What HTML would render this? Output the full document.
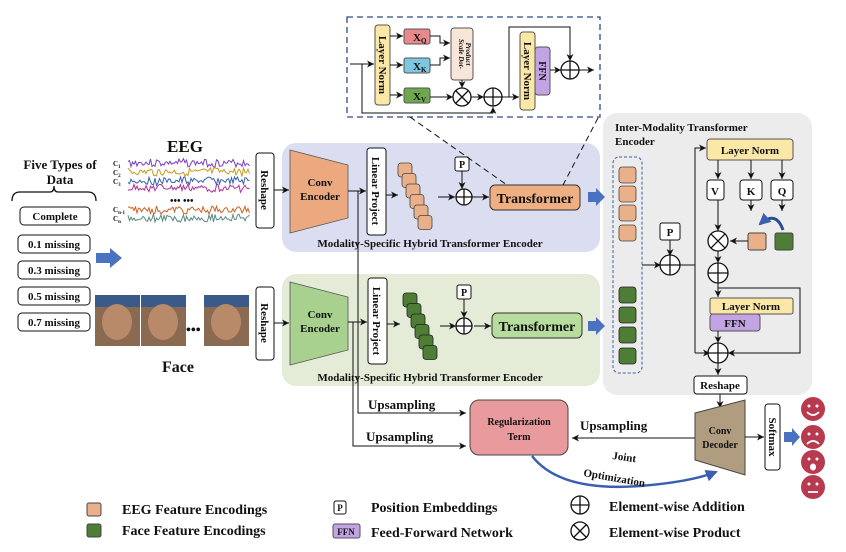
<!DOCTYPE html>
<html><head><meta charset="utf-8"><style>
html,body{margin:0;padding:0;background:#fff}
svg{display:block}
text{font-family:"Liberation Serif",serif;font-weight:bold;fill:#111}
</style></head><body>
<svg id="s" width="846" height="552" viewBox="0 0 846 552" xmlns="http://www.w3.org/2000/svg">
<defs>
<marker id="a" markerWidth="8" markerHeight="8" refX="7" refY="4" orient="auto" markerUnits="userSpaceOnUse"><path d="M0,0.5 L7,4 L0,7.5 L2,4 z" fill="#111"/></marker>
<marker id="b" markerWidth="14" markerHeight="14" refX="10" refY="6" orient="auto" markerUnits="userSpaceOnUse"><path d="M0,0 L12,6 L0,12 z" fill="#3a5fb0"/></marker>
</defs>
<!-- panels -->
<rect x="282" y="143" width="318" height="109" rx="14" fill="#dadef0"/>
<rect x="282" y="274" width="318" height="112" rx="14" fill="#e4ebd7"/>
<rect x="603" y="113" width="209" height="282" rx="14" fill="#ececec"/>

<!-- left column -->
<text x="60" y="169" font-size="13" text-anchor="middle">Five Types of</text>
<text x="60" y="184" font-size="13" text-anchor="middle">Data</text>
<path d="M12,201 Q12,192 20,192 L50,192 Q54,192 54,186 Q54,192 58,192 L88,192 Q96,192 96,201" fill="none" stroke="#111" stroke-width="1.3"/>
<g font-size="11" text-anchor="middle">
<rect x="20" y="207" width="70" height="18" rx="4" fill="#fff" stroke="#111"/><text x="55" y="220">Complete</text>
<rect x="18" y="235" width="72" height="18" rx="4" fill="#fff" stroke="#111"/><text x="54" y="248">0.1 missing</text>
<rect x="18" y="261" width="72" height="18" rx="4" fill="#fff" stroke="#111"/><text x="54" y="274">0.3 missing</text>
<rect x="18" y="287" width="72" height="18" rx="4" fill="#fff" stroke="#111"/><text x="54" y="300">0.5 missing</text>
<rect x="18" y="313" width="72" height="18" rx="4" fill="#fff" stroke="#111"/><text x="54" y="326">0.7 missing</text>
</g>
<path d="M96,253 L110,253 L110,248 L122,258 L110,268 L110,263 L96,263 z" fill="#4a72c0"/>

<text x="185" y="152" font-size="17" text-anchor="middle">EEG</text>
<g font-size="7">
<text x="113" y="166">C<tspan font-size="5" dy="2">1</tspan></text>
<text x="113" y="175">C<tspan font-size="5" dy="2">2</tspan></text>
<text x="113" y="184">C<tspan font-size="5" dy="2">3</tspan></text>
<text x="113" y="212">C<tspan font-size="5" dy="2">n-1</tspan></text>
<text x="113" y="221">C<tspan font-size="5" dy="2">n</tspan></text>
</g>
<g id="eeg"></g>
<text x="170" y="204" font-size="10">•••   •••</text>

<text x="178" y="372" font-size="16" text-anchor="middle">Face</text>
<g>
<rect x="95" y="295" width="45" height="51" fill="#8a6a50"/><rect x="95" y="295" width="45" height="12" fill="#3a5a8a"/><ellipse cx="117" cy="322" rx="15" ry="18" fill="#b98a6a"/>
<rect x="141" y="295" width="45" height="51" fill="#8a6a50"/><rect x="141" y="295" width="45" height="12" fill="#3a5a8a"/><ellipse cx="163" cy="322" rx="15" ry="18" fill="#b98a6a"/>
<rect x="204" y="295" width="45" height="51" fill="#8a6a50"/><rect x="204" y="295" width="45" height="12" fill="#3a5a8a"/><ellipse cx="226" cy="322" rx="15" ry="18" fill="#b98a6a"/>
</g>
<text x="186" y="334" font-size="14">•••</text>

<!-- reshape boxes -->
<rect x="256" y="153" width="18" height="75" rx="3" fill="#fff" stroke="#111"/>
<text transform="translate(261,190) rotate(90)" font-size="11" text-anchor="middle">Reshape</text>
<rect x="256" y="287" width="18" height="73" rx="3" fill="#fff" stroke="#111"/>
<text transform="translate(261,323) rotate(90)" font-size="11" text-anchor="middle">Reshape</text>
<line x1="274" y1="190" x2="289" y2="190" stroke="#111" marker-end="url(#a)"/>
<line x1="274" y1="323" x2="289" y2="323" stroke="#111" marker-end="url(#a)"/>

<!-- conv encoders -->
<path d="M290,150 L348,165 L348,218 L290,233 z" fill="#eca97f" stroke="#555" stroke-width=".8"/>
<text x="320" y="186" font-size="11" text-anchor="middle">Conv</text><text x="320" y="200" font-size="11" text-anchor="middle">Encoder</text>
<path d="M290,282 L348,297 L348,350 L290,365 z" fill="#a8d08e" stroke="#555" stroke-width=".8"/>
<text x="320" y="318" font-size="11" text-anchor="middle">Conv</text><text x="320" y="332" font-size="11" text-anchor="middle">Encoder</text>
<line x1="348" y1="191" x2="366" y2="191" stroke="#111" marker-end="url(#a)"/>
<line x1="348" y1="322" x2="367" y2="322" stroke="#111" marker-end="url(#a)"/>
<!-- linear project -->
<rect x="367" y="148" width="19" height="87" rx="3" fill="#fff" stroke="#111"/>
<text transform="translate(372,191) rotate(90)" font-size="11" text-anchor="middle">Linear Project</text>
<rect x="368" y="278" width="19" height="86" rx="3" fill="#fff" stroke="#111"/>
<text transform="translate(373,321) rotate(90)" font-size="11" text-anchor="middle">Linear Project</text>
<line x1="386" y1="195" x2="398" y2="195" stroke="#111" marker-end="url(#a)"/>
<line x1="387" y1="324" x2="400" y2="324" stroke="#111" marker-end="url(#a)"/>
<g id="stacks"></g>
<!-- P + oplus -->
<line x1="438" y1="197" x2="455" y2="197" stroke="#111" marker-end="url(#a)"/>
<rect x="455" y="157" width="14" height="14" rx="2" fill="#fff" stroke="#111"/><text x="462" y="168" font-size="10" text-anchor="middle">P</text>
<line x1="462" y1="171" x2="462" y2="189" stroke="#111" marker-end="url(#a)"/>
<line x1="472" y1="197" x2="489" y2="197" stroke="#111" marker-end="url(#a)"/>
<line x1="440" y1="326" x2="456" y2="326" stroke="#111" marker-end="url(#a)"/>
<rect x="457" y="285" width="14" height="14" rx="2" fill="#fff" stroke="#111"/><text x="464" y="296" font-size="10" text-anchor="middle">P</text>
<line x1="464" y1="299" x2="464" y2="318" stroke="#111" marker-end="url(#a)"/>
<line x1="474" y1="326" x2="491" y2="326" stroke="#111" marker-end="url(#a)"/>
<g class="op"></g>
<rect x="490" y="185" width="90" height="25" rx="5" fill="#f0af82" stroke="#333"/>
<text x="535" y="203" font-size="14" text-anchor="middle">Transformer</text>
<rect x="492" y="313" width="90" height="25" rx="5" fill="#b6dc9e" stroke="#333"/>
<text x="537" y="331" font-size="14" text-anchor="middle">Transformer</text>
<text x="430" y="247" font-size="11" text-anchor="middle">Modality-Specific Hybrid Transformer Encoder</text>
<text x="430" y="381" font-size="11" text-anchor="middle">Modality-Specific Hybrid Transformer Encoder</text>
<path d="M588,192 L596,192 L596,188 L605,197 L596,206 L596,202 L588,202 z" fill="#4a72c0"/>
<path d="M588,321 L596,321 L596,317 L605,326 L596,335 L596,331 L588,331 z" fill="#4a72c0"/>

<!-- dashed callout -->
<rect x="347" y="17" width="253" height="100" fill="none" stroke="#2e4a8a" stroke-width="1.3" stroke-dasharray="6,4"/>
<line x1="410" y1="117" x2="507" y2="185" stroke="#111" stroke-dasharray="6,4"/>
<line x1="598" y1="118" x2="563" y2="185" stroke="#111" stroke-dasharray="6,4"/>
<rect x="375" y="25" width="15" height="80" rx="3" fill="#fbe7a6" stroke="#555"/>
<text transform="translate(379,65) rotate(90)" font-size="11" text-anchor="middle">Layer Norm</text>
<line x1="350" y1="64" x2="374" y2="64" stroke="#111" marker-end="url(#a)"/>
<polyline points="362,64 362,113 493,113 493,107" fill="none" stroke="#111" marker-end="url(#a)"/>
<line x1="390" y1="36" x2="403" y2="36" stroke="#111" marker-end="url(#a)"/>
<line x1="390" y1="65" x2="403" y2="65" stroke="#111" marker-end="url(#a)"/>
<line x1="390" y1="95" x2="403" y2="95" stroke="#111" marker-end="url(#a)"/>
<rect x="404" y="29" width="26" height="15" rx="2" fill="#e8898c" stroke="#555"/><text x="413" y="41" font-size="11">X<tspan font-size="7" dy="2">Q</tspan></text>
<rect x="404" y="58" width="26" height="15" rx="2" fill="#7cc8e0" stroke="#555"/><text x="413" y="70" font-size="11">X<tspan font-size="7" dy="2">K</tspan></text>
<rect x="404" y="88" width="26" height="15" rx="2" fill="#6ea84e" stroke="#555"/><text x="413" y="100" font-size="11">X<tspan font-size="7" dy="2">V</tspan></text>
<polyline points="430,36 440,36 440,43 450,43" fill="none" stroke="#111" marker-end="url(#a)"/>
<polyline points="430,65 440,65 440,58 450,58" fill="none" stroke="#111" marker-end="url(#a)"/>
<rect x="451" y="28" width="22" height="52" rx="3" fill="#f8e6d8" stroke="#555"/>
<text transform="translate(459,54) rotate(90)" font-size="7" font-style="italic" text-anchor="middle">Scale Dot-</text>
<text transform="translate(466,54) rotate(90)" font-size="7" font-style="italic" text-anchor="middle">Product</text>
<line x1="462" y1="80" x2="462" y2="88" stroke="#111" marker-end="url(#a)"/>
<line x1="430" y1="97" x2="453" y2="97" stroke="#111" marker-end="url(#a)"/>
<line x1="471" y1="97" x2="484" y2="97" stroke="#111" marker-end="url(#a)"/>
<line x1="502" y1="97" x2="519" y2="97" stroke="#111" marker-end="url(#a)"/>
<polyline points="509,97 509,27 570,27 570,61" fill="none" stroke="#111" marker-end="url(#a)"/>
<rect x="520" y="32" width="15" height="78" rx="3" fill="#fbe7a6" stroke="#555"/>
<text transform="translate(524,71) rotate(90)" font-size="11" text-anchor="middle">Layer Norm</text>
<rect x="535" y="47" width="15" height="48" rx="3" fill="#c2a4e4" stroke="#555"/>
<text transform="translate(539,71) rotate(90)" font-size="10" text-anchor="middle">FFN</text>
<line x1="550" y1="70" x2="561" y2="70" stroke="#111" marker-end="url(#a)"/>
<line x1="579" y1="70" x2="594" y2="70" stroke="#111" marker-end="url(#a)"/>

<!-- inter-modality -->
<text x="615" y="131" font-size="11">Inter-Modality Transformer</text>
<text x="615" y="145" font-size="11">Encoder</text>
<rect x="613" y="157" width="29" height="216" rx="6" fill="none" stroke="#3a5fb0" stroke-dasharray="3,2"/>
<line x1="642" y1="265" x2="661" y2="265" stroke="#111" marker-end="url(#a)"/>
<rect x="660" y="223" width="20" height="17" rx="2" fill="#fff" stroke="#111"/><text x="670" y="236" font-size="11" text-anchor="middle">P</text>
<line x1="670" y1="240" x2="670" y2="256" stroke="#111" marker-end="url(#a)"/>
<polyline points="680,265 695,265" fill="none" stroke="#111"/>
<polyline points="695,353 695,148 706,148" fill="none" stroke="#111" marker-end="url(#a)"/>
<line x1="695" y1="353" x2="710" y2="353" stroke="#111" marker-end="url(#a)"/>
<rect x="707" y="139" width="86" height="21" rx="3" fill="#fbe7a6" stroke="#555"/>
<text x="750" y="154" font-size="11" text-anchor="middle">Layer Norm</text>
<line x1="718" y1="160" x2="718" y2="179" stroke="#111" marker-end="url(#a)"/>
<line x1="751" y1="160" x2="751" y2="179" stroke="#111" marker-end="url(#a)"/>
<line x1="782" y1="160" x2="782" y2="179" stroke="#111" marker-end="url(#a)"/>
<rect x="707" y="180" width="17" height="20" rx="3" fill="#fff" stroke="#111"/><text x="715" y="195" font-size="11" text-anchor="middle">V</text>
<rect x="740" y="180" width="22" height="20" rx="3" fill="#fff" stroke="#111"/><text x="751" y="195" font-size="11" text-anchor="middle">K</text>
<rect x="771" y="180" width="22" height="20" rx="3" fill="#fff" stroke="#111"/><text x="782" y="195" font-size="11" text-anchor="middle">Q</text>
<line x1="751" y1="200" x2="751" y2="211" stroke="#111" marker-end="url(#a)"/>
<line x1="782" y1="200" x2="782" y2="211" stroke="#111" marker-end="url(#a)"/>
<line x1="718" y1="200" x2="718" y2="231" stroke="#111" marker-end="url(#a)"/>
<rect x="748" y="233" width="18" height="17" rx="2" fill="#eab08a" stroke="#444"/>
<rect x="775" y="233" width="18" height="17" rx="2" fill="#4e7e36" stroke="#444"/>
<path d="M783,230 Q776,210 760,224" fill="none" stroke="#2a4f90" stroke-width="3" marker-end="url(#b)"/>
<line x1="748" y1="241" x2="730" y2="241" stroke="#111" marker-end="url(#a)"/>
<line x1="718" y1="251" x2="718" y2="263" stroke="#111" marker-end="url(#a)"/>
<polyline points="718,283 718,297" fill="none" stroke="#111" marker-end="url(#a)"/>
<polyline points="718,288 800,288 800,353 728,353" fill="none" stroke="#111" marker-end="url(#a)"/>
<rect x="710" y="298" width="83" height="16" rx="2" fill="#fbe7a6" stroke="#555"/>
<text x="751" y="310" font-size="11" text-anchor="middle">Layer Norm</text>
<rect x="710" y="314" width="50" height="17" rx="3" fill="#c2a4e4" stroke="#555"/>
<text x="735" y="327" font-size="11" text-anchor="middle">FFN</text>
<line x1="718" y1="331" x2="718" y2="343" stroke="#111" marker-end="url(#a)"/>
<line x1="718" y1="363" x2="718" y2="375" stroke="#111" marker-end="url(#a)"/>
<rect x="694" y="376" width="53" height="18" rx="3" fill="#fff" stroke="#111"/>
<text x="720" y="389" font-size="11" text-anchor="middle">Reshape</text>
<line x1="720" y1="394" x2="720" y2="408" stroke="#111" marker-end="url(#a)"/>

<!-- bottom -->
<polyline points="358,191 358,413 466,413" fill="none" stroke="#111" marker-end="url(#a)"/>
<polyline points="353,322 353,446 466,446" fill="none" stroke="#111" marker-end="url(#a)"/>
<text x="368" y="409" font-size="13">Upsampling</text>
<text x="366" y="441" font-size="13">Upsampling</text>
<rect x="470" y="400" width="98" height="55" rx="9" fill="#e99a9c" stroke="#444"/>
<text x="519" y="425" font-size="10" text-anchor="middle">Regularization</text>
<text x="519" y="440" font-size="10" text-anchor="middle">Term</text>
<line x1="695" y1="438" x2="572" y2="438" stroke="#111" marker-end="url(#a)"/>
<text x="580" y="430" font-size="13">Upsampling</text>
<path d="M695,413 L745,400 L745,475 L695,460 z" fill="#b09d80" stroke="#444"/>
<text x="720" y="434" font-size="10" text-anchor="middle">Conv</text>
<text x="720" y="448" font-size="10" text-anchor="middle">Decoder</text>
<line x1="745" y1="437" x2="764" y2="437" stroke="#111" marker-end="url(#a)"/>
<rect x="765" y="404" width="15" height="66" rx="3" fill="#fff" stroke="#111"/>
<text transform="translate(769,437) rotate(90)" font-size="11" text-anchor="middle">Softmax</text>
<path d="M784,432 L792,432 L792,428 L800,437 L792,446 L792,442 L784,442 z" fill="#4a72c0"/>
<path d="M532,456 Q560,492 640,486 Q690,482 716,472" fill="none" stroke="#3a5fb0" stroke-width="2.5" marker-end="url(#b)"/>
<text x="612" y="459" font-size="11" transform="rotate(8 612 459)">Joint</text>
<text x="583" y="476" font-size="11" transform="rotate(10 583 476)">Optimization</text>
<g id="faces"></g>

<!-- legend -->
<rect x="87" y="503" width="14" height="13" rx="2" fill="#eab08a" stroke="#444"/>
<rect x="87" y="524" width="14" height="13" rx="2" fill="#4e7e36" stroke="#444"/>
<text x="122" y="514" font-size="14">EEG Feature Encodings</text>
<text x="122" y="535" font-size="14">Face Feature Encodings</text>
<rect x="334" y="501" width="12" height="13" rx="2" fill="#fff" stroke="#111"/><text x="340" y="511" font-size="9" text-anchor="middle">P</text>
<rect x="333" y="524" width="27" height="14" rx="2" fill="#c2a4e4" stroke="#555"/><text x="346" y="535" font-size="9" text-anchor="middle">FFN</text>
<text x="371" y="512" font-size="14">Position Embeddings</text>
<text x="371" y="537" font-size="14">Feed-Forward Network</text>
<text x="609" y="511" font-size="14">Element-wise Addition</text>
<text x="609" y="537" font-size="14">Element-wise Product</text>
</svg>
<script>
var NS="http://www.w3.org/2000/svg",s=document.getElementById('s');
function el(t,a,p){var e=document.createElementNS(NS,t);for(var k in a)e.setAttribute(k,a[k]);(p||s).appendChild(e);return e;}
// EEG
var rows=[[163,"#7b3fc0"],[172,"#c89a20"],[181,"#3a5fb0"],[188,"#b0309a"],[210,"#d06020"],[218,"#5a8a80"]];
var seed=3;function r(){seed=(seed*9301+49297)%233280;return seed/233280;}
rows.forEach(function(q){var p="";for(var x=128;x<=250;x+=1.5){var amp=2+2.5*Math.abs(Math.sin(x/9));p+=x+","+(q[0]+(r()-0.5)*amp*2)+" ";}el('polyline',{points:p,fill:"none",stroke:q[1],"stroke-width":"1"},document.getElementById('eeg'));});
// stacks
var st=document.getElementById('stacks');
for(var i=0;i<6;i++){el('rect',{x:398+i*4,y:163+i*10.5,width:14,height:14,rx:3,fill:"#eab08a",stroke:"#444","stroke-width":".8"},st);}
for(var i=0;i<6;i++){el('rect',{x:403+i*4,y:293+i*10.5,width:14,height:14,rx:3,fill:"#4e7e36",stroke:"#222","stroke-width":".8"},st);}
// inter squares
[167,186,205,225].forEach(function(y){el('rect',{x:619,y:y,width:17,height:16,rx:3,fill:"#eab08a",stroke:"#444","stroke-width":".8"});});
[287,307,327,348].forEach(function(y){el('rect',{x:619,y:y,width:17,height:16,rx:3,fill:"#4e7e36",stroke:"#222","stroke-width":".8"});});
// circle ops
function op(cx,cy,rr,prod){el('circle',{cx:cx,cy:cy,r:rr,fill:"#fff",stroke:"#111","stroke-width":"1.3"});var d=prod?rr*0.707:rr;
 if(prod){el('line',{x1:cx-d,y1:cy-d,x2:cx+d,y2:cy+d,stroke:"#111","stroke-width":"1.3"});el('line',{x1:cx-d,y1:cy+d,x2:cx+d,y2:cy-d,stroke:"#111","stroke-width":"1.3"});}
 else{el('line',{x1:cx-d,y1:cy,x2:cx+d,y2:cy,stroke:"#111","stroke-width":"1.3"});el('line',{x1:cx,y1:cy-d,x2:cx,y2:cy+d,stroke:"#111","stroke-width":"1.3"});}}
op(464,197,8);op(464,326,8);op(462,97,9,1);op(493,97,9);op(570,70,9);
op(670,265,10);op(718,241,10,1);op(718,273,10);op(718,353,10);
op(580,505,9);op(580,531,9,1);
// faces
[409,437,462,487].forEach(function(y,i){el('circle',{cx:813,cy:y,r:12,fill:"#b83a4e"});
 el('circle',{cx:809,cy:y-3,r:1.5,fill:"#fff"});el('circle',{cx:817,cy:y-3,r:1.5,fill:"#fff"});
 var m=["M807,"+(y+3)+" Q813,"+(y+9)+" 819,"+(y+3),"M807,"+(y+7)+" Q813,"+(y+1)+" 819,"+(y+7),"","M808,"+(y+5)+" L818,"+(y+5)][i];
 if(i==2)el('ellipse',{cx:813,cy:y+5,rx:3,ry:3.5,fill:"#fff"});else el('path',{d:m,fill:"none",stroke:"#fff","stroke-width":"1.8"});});
</script>
</body></html>
